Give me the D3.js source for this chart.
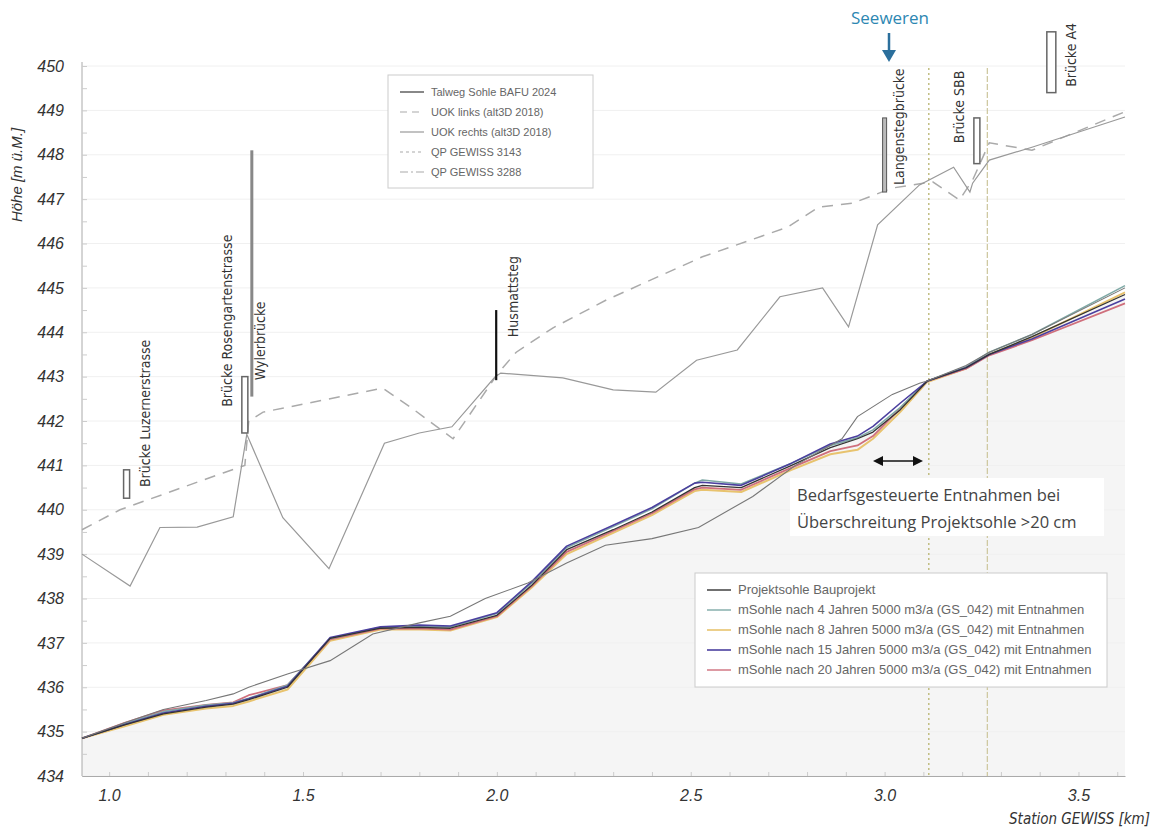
<!DOCTYPE html>
<html lang="de">
<head>
<meta charset="UTF-8">
<title>Längenprofil Seeweren</title>
<script src="https://cdnjs.cloudflare.com/ajax/libs/d3/7.8.4/d3.min.js"></script>
<style>
    body { margin: 0; background: #fff; }
    svg { display: block; }
    .tick text { font-family: "Liberation Sans", Arial, sans-serif; font-style: italic; }
</style>
</head>
<body>
<svg width="1157" height="830"></svg>
<script>
// upper lines (alt3D 2018)
const uokRechtsKm = [0.93, 1.054, 1.131, 1.227, 1.32, 1.355, 1.448, 1.567, 1.71, 1.80, 1.884, 1.995, 2.01, 2.17, 2.30, 2.41, 2.515, 2.62, 2.73, 2.84, 2.907, 2.982, 3.09, 3.178, 3.22, 3.227, 3.27, 3.38, 3.62];
const uokRechts   = [439.0, 438.28, 439.6, 439.61, 439.84, 441.7, 439.82, 438.67, 441.5, 441.73, 441.87, 442.99, 443.08, 442.97, 442.7, 442.65, 443.37, 443.6, 444.8, 445.0, 444.12, 446.42, 447.32, 447.72, 447.16, 447.36, 447.88, 448.17, 448.85];

const uokLinksKm = [0.93, 1.028, 1.294, 1.35, 1.36, 1.397, 1.706, 1.776, 1.887, 2.005, 2.05, 2.145, 2.283, 2.53, 2.75, 2.83, 2.918, 3.02, 3.124, 3.193, 3.227, 3.27, 3.38, 3.62];
const uokLinks   = [439.55, 440.0, 440.83, 441.0, 442.0, 442.2, 442.74, 442.32, 441.6, 443.1, 443.55, 444.1, 444.73, 445.7, 446.37, 446.82, 446.91, 447.25, 447.39, 446.98, 447.43, 448.27, 448.1, 448.97];

// Sohle BAFU 2024
const sohle2024Km = [0.93, 1.04, 1.14, 1.25, 1.32, 1.36, 1.46, 1.57, 1.68, 1.80, 1.88, 1.97, 2.08, 2.18, 2.28, 2.40, 2.52, 2.66, 2.77, 2.89, 2.93, 3.02, 3.09, 3.11, 3.21, 3.27, 3.38, 3.62];
const sohle2024   = [434.85, 435.2, 435.5, 435.7, 435.85, 436.0, 436.3, 436.6, 437.2, 437.45, 437.6, 438.0, 438.35, 438.8, 439.2, 439.35, 439.6, 440.3, 441.0, 441.6, 442.1, 442.6, 442.85, 442.9, 443.25, 443.55, 443.95, 445.0];

// Projektsohle and modelled bed levels
const bedKm = [0.93, 1.04, 1.14, 1.25, 1.32, 1.36, 1.46, 1.57, 1.70, 1.80, 1.88, 2.00, 2.09, 2.18, 2.30, 2.40, 2.51, 2.53, 2.63, 2.76, 2.86, 2.93, 2.97, 3.04, 3.11, 3.21, 3.27, 3.38, 3.62];
const projektsohle = [434.85, 435.15, 435.4, 435.55, 435.62, 435.72, 436.0, 437.1, 437.33, 437.35, 437.33, 437.62, 438.3, 439.1, 439.55, 439.95, 440.5, 440.55, 440.5, 441.0, 441.4, 441.6, 441.75, 442.25, 442.9, 443.2, 443.5, 443.9, 444.85];
const nach4  = [434.85, 435.18, 435.45, 435.6, 435.65, 435.75, 436.05, 437.1, 437.35, 437.38, 437.36, 437.66, 438.35, 439.15, 439.62, 440.02, 440.6, 440.67, 440.58, 441.05, 441.45, 441.62, 441.8, 442.3, 442.9, 443.22, 443.55, 443.95, 445.05];
const nach8  = [434.85, 435.12, 435.38, 435.52, 435.58, 435.68, 435.95, 437.05, 437.3, 437.3, 437.28, 437.58, 438.25, 439.0, 439.48, 439.88, 440.42, 440.45, 440.4, 440.9, 441.25, 441.35, 441.6, 442.2, 442.88, 443.18, 443.5, 443.88, 444.9];
const nach15 = [434.85, 435.16, 435.42, 435.57, 435.64, 435.74, 436.02, 437.12, 437.36, 437.4, 437.38, 437.68, 438.38, 439.18, 439.65, 440.05, 440.6, 440.62, 440.55, 441.05, 441.48, 441.66, 441.88, 442.4, 442.9, 443.2, 443.5, 443.85, 444.75];
const nach20 = [434.85, 435.2, 435.48, 435.6, 435.66, 435.82, 436.05, 437.08, 437.32, 437.33, 437.3, 437.6, 438.28, 439.05, 439.52, 439.92, 440.46, 440.5, 440.45, 440.95, 441.32, 441.45, 441.66, 442.28, 442.9, 443.18, 443.48, 443.82, 444.65];

const yTicks = d3.range(434, 451, 1);
const xTicks = [1.0, 1.5, 2.0, 2.5, 3.0, 3.5];

// bridges
const bridgeNames  = ["Brücke Luzernerstrasse", "Brücke Rosengartenstrasse", "Wylerbrücke", "Husmattsteg", "Langenstegbrücke", "Brücke SBB", "Brücke A4"];
const bridgeKm     = [1.045, 1.35, 1.368, 1.998, 3.0, 3.238, 3.43];
const bridgeTop    = [440.9, 443.0, 448.1, 444.5, 448.83, 448.83, 450.77];
const bridgeBottom = [440.26, 441.73, 442.55, 442.92, 447.16, 447.8, 449.4];
const labelBase    = [440.51, 442.32, 442.92, 443.89, 447.32, 448.26, 449.53];

const markerKm = [3.114, 3.265];

const legendTop = ["Talweg Sohle BAFU 2024", "UOK links (alt3D 2018)", "UOK rechts (alt3D 2018)", "QP GEWISS 3143", "QP GEWISS 3288"];
const legendBottom = ["Projektsohle Bauprojekt",
    "mSohle nach 4 Jahren 5000 m3/a (GS_042) mit Entnahmen",
    "mSohle nach 8 Jahren 5000 m3/a (GS_042) mit Entnahmen",
    "mSohle nach 15 Jahren 5000 m3/a (GS_042) mit Entnahmen",
    "mSohle nach 20 Jahren 5000 m3/a (GS_042) mit Entnahmen"];

const svg = d3.select("svg");
const x = d3.scaleLinear().domain([0.93, 3.62]).range([82, 1125]);
const y = d3.scaleLinear().domain([434, 450]).range([776, 66]);

const line = d3.line().x(d => x(d[0])).y(d => y(d[1]));
const pairs = (ks, vs) => ks.map((k, i) => [k, vs[i]]);

// light fill below the bed
const area = d3.area().x(d => x(d[0])).y0(y(434)).y1(d => y(d[1]));
svg.append("path").attr("d", area(pairs(bedKm, projektsohle))).attr("fill", "#f5f5f5");

// faint grid
svg.append("g").selectAll("line").data(yTicks).join("line")
    .attr("x1", x(0.93)).attr("x2", x(3.62))
    .attr("y1", d => y(d)).attr("y2", d => y(d))
    .attr("stroke", "#f0f0f0");

// axes
const yAxis = svg.append("g").attr("transform", "translate(82,0)")
    .call(d3.axisLeft(y).tickValues(yTicks).tickFormat(d3.format("d")).tickSize(0).tickPadding(18));
yAxis.select(".domain").attr("stroke", "#aaa").attr("d", `M0,${y(450) - 4}V${y(434)}`);
yAxis.selectAll("text").attr("font-size", 16).attr("fill", "#333");
svg.append("g").attr("transform", "translate(82,0)")
    .call(d3.axisRight(y).ticks(32).tickSize(5).tickFormat(""))
    .call(g => g.select(".domain").remove())
    .selectAll("line").attr("stroke", "#ccc");

const xAxis = svg.append("g").attr("transform", "translate(0,776)")
    .call(d3.axisBottom(x).tickValues(xTicks).tickFormat(d3.format(".1f")).tickSize(0).tickPadding(14));
xAxis.select(".domain").attr("stroke", "#aaa");
xAxis.selectAll("text").attr("font-size", 16).attr("fill", "#333");
svg.append("g").attr("transform", "translate(0,776)")
    .call(d3.axisTop(x).tickValues(d3.range(1.0, 3.61, 0.1)).tickSize(4).tickFormat(""))
    .call(g => g.select(".domain").remove())
    .selectAll("line").attr("stroke", "#ccc");

svg.append("text").attr("transform", "translate(22,175) rotate(-90)")
    .attr("text-anchor", "middle").attr("font-family", "Liberation Sans, Arial, sans-serif")
    .attr("font-style", "italic").attr("font-size", 15).attr("fill", "#333")
    .text("Höhe [m ü.M.]");
svg.append("text").attr("x", 1150).attr("y", 824).attr("text-anchor", "end")
    .attr("font-family", "Liberation Sans Narrow, DejaVu Sans Condensed, sans-serif")
    .attr("font-style", "italic").attr("font-size", 15).attr("fill", "#333")
    .text("Station GEWISS [km]");

// vertical markers
svg.append("line").attr("x1", x(markerKm[0])).attr("x2", x(markerKm[0]))
    .attr("y1", 68).attr("y2", 776).attr("stroke", "#bdb878").attr("stroke-width", 1.4).attr("stroke-dasharray", "2,3");
svg.append("line").attr("x1", x(markerKm[1])).attr("x2", x(markerKm[1]))
    .attr("y1", 68).attr("y2", 776).attr("stroke", "#cfc9a2").attr("stroke-width", 1.3).attr("stroke-dasharray", "6,2");

// top lines
svg.append("path").attr("d", line(pairs(uokLinksKm, uokLinks))).attr("fill", "none")
    .attr("stroke", "#aaa").attr("stroke-width", 1.5).attr("stroke-dasharray", "11,8");
svg.append("path").attr("d", line(pairs(uokRechtsKm, uokRechts))).attr("fill", "none")
    .attr("stroke", "#999").attr("stroke-width", 1.2);

// bed lines
const bedSeries = [
    { v: nach8, c: "#e8c36e", w: 2 },
    { v: nach20, c: "#cf6f7c", w: 1.8 },
    { v: nach4, c: "#7fa9a6", w: 1.6 },
    { v: nach15, c: "#4b3f9f", w: 1.6 },
    { v: projektsohle, c: "#333", w: 1.3 }
];
bedSeries.forEach(s => {
    svg.append("path").attr("d", line(pairs(bedKm, s.v))).attr("fill", "none")
        .attr("stroke", s.c).attr("stroke-width", s.w).attr("stroke-linejoin", "round");
});
svg.append("path").attr("d", line(pairs(sohle2024Km, sohle2024))).attr("fill", "none")
    .attr("stroke", "#777").attr("stroke-width", 1.1);

// bridges
const labelDx = [19, -18, 8, 17, 14, -18, 20];
bridgeNames.forEach((name, i) => {
    const bx = x(bridgeKm[i]);
    const y0 = y(bridgeTop[i]), y1 = y(bridgeBottom[i]);
    if (name === "Wylerbrücke") {
        svg.append("rect").attr("x", bx - 1.5).attr("y", y0).attr("width", 3).attr("height", y1 - y0).attr("fill", "#888");
    } else if (name === "Husmattsteg") {
        svg.append("rect").attr("x", bx - 1).attr("y", y0).attr("width", 2.2).attr("height", y1 - y0).attr("fill", "#111");
    } else if (name === "Langenstegbrücke") {
        svg.append("rect").attr("x", bx - 2).attr("y", y0).attr("width", 4).attr("height", y1 - y0)
            .attr("fill", "#bbb").attr("stroke", "#555").attr("stroke-width", 1);
    } else {
        const w = name === "Brücke A4" ? 9 : 6;
        svg.append("rect").attr("x", bx - w / 2).attr("y", y0).attr("width", w).attr("height", y1 - y0)
            .attr("fill", "#fff").attr("stroke", "#666").attr("stroke-width", 1.5);
    }
    svg.append("text")
        .attr("transform", `translate(${bx + labelDx[i]},${y(labelBase[i])}) rotate(-90)`)
        .attr("dy", "0.35em")
        .attr("font-family", "Liberation Sans Narrow, DejaVu Sans Condensed, sans-serif")
        .attr("font-size", 14).attr("fill", "#333")
        .text(name);
});

// Seeweren
svg.append("text").attr("x", 890).attr("y", 24).attr("text-anchor", "middle")
    .attr("font-family", "Open Sans, sans-serif").attr("font-size", 17).attr("fill", "#2d87b2")
    .text("Seeweren");
svg.append("line").attr("x1", 889).attr("x2", 889).attr("y1", 33).attr("y2", 52)
    .attr("stroke", "#2b6f9c").attr("stroke-width", 2.5);
svg.append("path").attr("d", "M882,50 L896,50 L889,62 Z").attr("fill", "#2b6f9c");

// double arrow + annotation
svg.append("line").attr("x1", 880).attr("x2", 915).attr("y1", 461).attr("y2", 461)
    .attr("stroke", "#111").attr("stroke-width", 1.6);
svg.append("path").attr("d", "M873,461 L883,456 L883,466 Z").attr("fill", "#111");
svg.append("path").attr("d", "M923,461 L913,456 L913,466 Z").attr("fill", "#111");

svg.append("rect").attr("x", 790).attr("y", 478).attr("width", 314).attr("height", 58).attr("fill", "#fff");
const note = svg.append("text").attr("font-family", "Open Sans, sans-serif").attr("font-size", 16.5).attr("fill", "#444");
note.append("tspan").attr("x", 797).attr("y", 501).text("Bedarfsgesteuerte Entnahmen bei");
note.append("tspan").attr("x", 797).attr("y", 528).text("Überschreitung Projektsohle >20 cm");

// legends
function legend(x0, y0, w, h, items, styles, fs) {
    const g = svg.append("g");
    g.append("rect").attr("x", x0).attr("y", y0).attr("width", w).attr("height", h)
        .attr("fill", "#fff").attr("stroke", "#ccc");
    items.forEach((t, i) => {
        const ly = y0 + 17 + i * 20;
        const s = styles[i];
        g.append("line").attr("x1", x0 + 12).attr("x2", x0 + 36).attr("y1", ly).attr("y2", ly)
            .attr("stroke", s.c).attr("stroke-width", s.w).attr("stroke-dasharray", s.d || null);
        g.append("text").attr("x", x0 + 43).attr("y", ly + 4)
            .attr("font-family", "Liberation Sans, Arial, sans-serif").attr("font-size", fs)
            .attr("fill", "#666").text(t);
    });
}
legend(388, 75, 205, 113, legendTop, [
    { c: "#555", w: 1.4 }, { c: "#aaa", w: 1.2, d: "7,5" }, { c: "#999", w: 1.2 },
    { c: "#aaa", w: 1.2, d: "3,3" }, { c: "#aaa", w: 1.2, d: "8,3,2,3" }
], 11);
legend(695, 573, 412, 114, legendBottom, [
    { c: "#333", w: 1.4 }, { c: "#7fa9a6", w: 1.4 }, { c: "#e8c36e", w: 1.6 },
    { c: "#4b3f9f", w: 1.6 }, { c: "#cf6f7c", w: 1.4 }
], 13);
</script>
</body>
</html>
